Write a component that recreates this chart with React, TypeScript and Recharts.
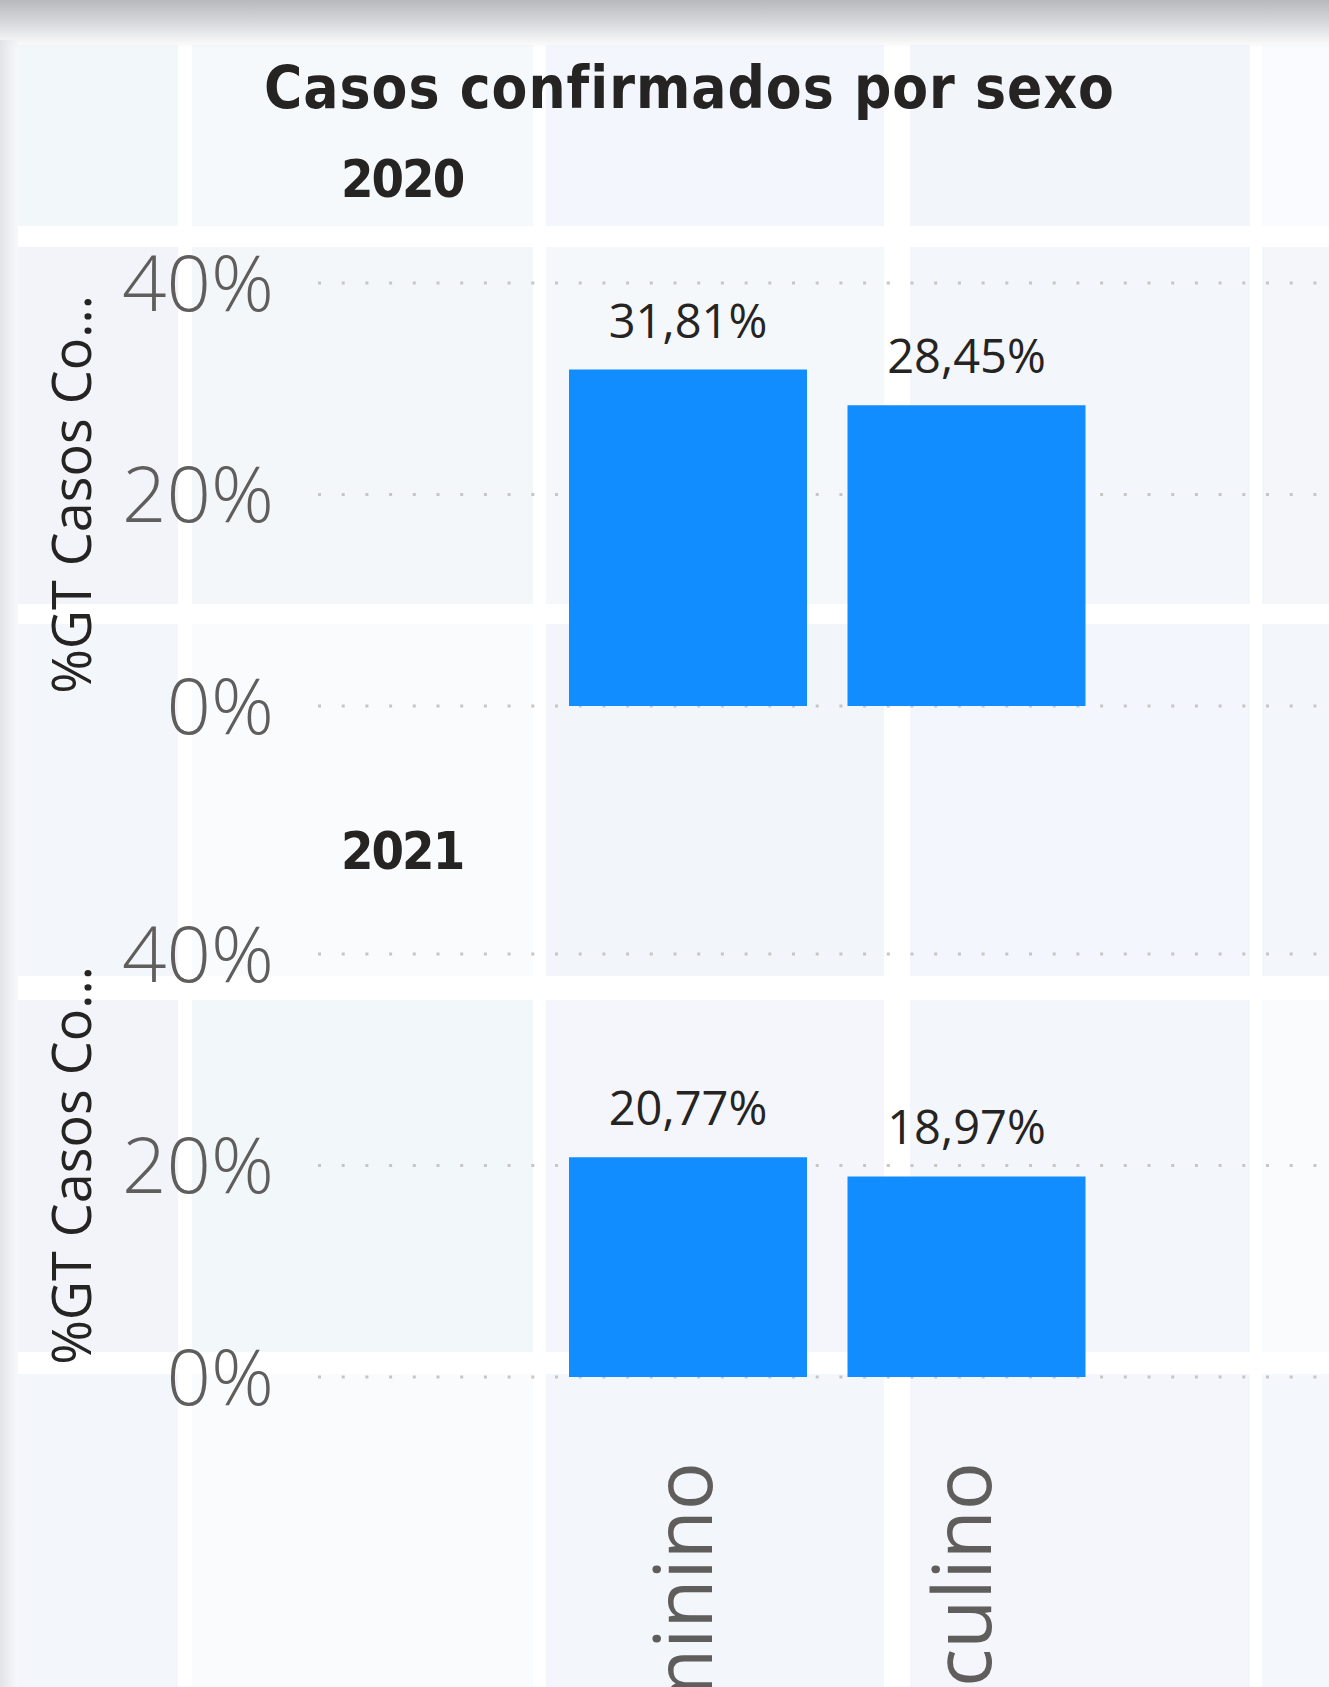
import React from "react";
import {
  BarChart,
  Bar,
  XAxis,
  YAxis,
  CartesianGrid,
  LabelList,
  Label,
} from "recharts";

const sexos = ["Feminino", "Masculino"];
const anios = ["2020", "2021"];
const valores2020 = [31.81, 28.45];
const valores2021 = [20.77, 18.97];
const yTicks = [0, 20, 40];

const BLUE = "#118DFF";
const TEXT = "#252423";
const GRAY = "#605E5C";

// faint tiles of the blurred page behind the visual
const tileCols = [
  [18, 178],
  [192, 533],
  [546, 884],
  [910, 1250],
  [1262, 1329],
];
const tileRows = [
  [45, 226],
  [247, 604],
  [624, 976],
  [1000, 1352],
  [1374, 1687],
];
const tileColors = [
  ["#F2F7FA", "#F5F9FC", "#F3F6FD", "#F2F5FA", "#FAFBFE"],
  ["#F2F4F9", "#F3F7FA", "#F5F8FB", "#F3F6FA", "#F4F6FA"],
  ["#F3F6FA", "#F9FBFD", "#F2F5FA", "#F3F6FD", "#F3F6FA"],
  ["#F2F4F9", "#F2F7FA", "#F4F6FB", "#F3F6FA", "#F9FBFD"],
  ["#F3F6FA", "#FAFBFD", "#F3F6FB", "#F4F6FB", "#F4F7FB"],
];

function fmtLabel(v: any): string {
  return Number(v).toFixed(2).replace(".", ",") + "%";
}

function renderYTitle(props: any) {
  const vb = props.viewBox || { x: 0, y: 0, width: 0, height: 0 };
  const cx = 70;
  const cy = vb.y + vb.height / 2;
  return (
    <text
      x={cx}
      y={cy}
      transform={`rotate(-90 ${cx} ${cy})`}
      textAnchor="middle"
      dominantBaseline="central"
      fontSize={54}
      fill={TEXT}
      fontFamily="'Open Sans', sans-serif"
    >
      %GT Casos Co...
    </text>
  );
}

function XTick(props: any) {
  const { x, y, payload } = props;
  const ty = y + 85;
  return (
    <text
      x={x}
      y={ty}
      transform={`rotate(-90 ${x} ${ty})`}
      textAnchor="end"
      dy="0.3em"
      fontSize={80}
      fill={GRAY}
      fontFamily="'Open Sans', sans-serif"
    >
      {payload.value}
    </text>
  );
}

interface PanelProps {
  valores: number[];
  top: number;
  height: number;
  marginTop: number;
  marginBottom: number;
  showX: boolean;
}

function Panel({ valores, top, height, marginTop, marginBottom, showX }: PanelProps) {
  const data = sexos.map((s, i) => ({ sexo: s, valor: valores[i] }));
  return (
    <div style={{ position: "absolute", left: 0, top, width: 1329, height }}>
      <BarChart
        width={1329}
        height={height}
        data={data}
        margin={{ top: marginTop, right: 0, bottom: marginBottom, left: 0 }}
      >
        <CartesianGrid
          vertical={false}
          stroke="#C8C6C4"
          strokeWidth={3}
          strokeDasharray="3 20.7"
        />
        <XAxis
          dataKey="sexo"
          hide={!showX}
          height={310}
          axisLine={false}
          tickLine={false}
          tickSize={0}
          tickMargin={0}
          interval={0}
          padding={{ left: 231, right: 223 }}
          tick={<XTick />}
        />
        <YAxis
          domain={[0, 40]}
          ticks={yTicks}
          interval={0}
          width={318}
          axisLine={false}
          tickLine={false}
          tickSize={0}
          tickMargin={44}
          tickFormatter={(v: number) => `${v}%`}
          tick={{
            fill: GRAY,
            fontSize: 78,
            fontWeight: 300,
            fontFamily: "'Open Sans', sans-serif",
          }}
        >
          <Label content={renderYTitle} />
        </YAxis>
        <Bar dataKey="valor" fill={BLUE} barSize={238} isAnimationActive={false}>
          <LabelList
            dataKey="valor"
            position="top"
            offset={32}
            formatter={fmtLabel}
            fill={TEXT}
            fontSize={47}
            fontFamily="'Open Sans', sans-serif"
          />
        </Bar>
      </BarChart>
    </div>
  );
}

export default function App() {
  return (
    <div
      style={{
        position: "absolute",
        left: 0,
        top: 0,
        width: 1329,
        height: 1687,
        overflow: "hidden",
        background: "#FFFFFF",
        fontFamily: "'Open Sans', sans-serif",
      }}
    >
      {tileRows.map((r, ri) =>
        tileCols.map((c, ci) => (
          <div
            key={`${ri}-${ci}`}
            style={{
              position: "absolute",
              left: c[0],
              top: r[0],
              width: c[1] - c[0],
              height: r[1] - r[0],
              background: tileColors[ri][ci],
            }}
          />
        ))
      )}
      <div
        style={{
          position: "absolute",
          left: 0,
          top: 0,
          width: 1329,
          height: 48,
          background: "linear-gradient(#B8B9BD, #D9DADD 50%, rgba(255,255,255,0))",
        }}
      />
      <div
        style={{
          position: "absolute",
          left: 0,
          top: 40,
          width: 18,
          height: 1647,
          background: "linear-gradient(90deg, #E3E4E7, rgba(243,244,246,0.6))",
        }}
      />

      <Panel valores={valores2020} top={0} height={770} marginTop={283} marginBottom={64} showX={false} />
      <Panel valores={valores2021} top={700} height={987} marginTop={254} marginBottom={0} showX={true} />

      <svg
        width={1329}
        height={1687}
        style={{ position: "absolute", left: 0, top: 0, pointerEvents: "none" }}
      >
        <text
          x={689.5}
          y={108}
          textAnchor="middle"
          fontFamily="'DejaVu Sans Condensed', 'DejaVu Sans', sans-serif"
          fontWeight="bold"
          fontSize={58}
          letterSpacing={1}
          fill={TEXT}
        >
          Casos confirmados por sexo
        </text>
        <text
          x={341}
          y={197}
          fontFamily="'DejaVu Sans Condensed', 'DejaVu Sans', sans-serif"
          fontWeight="bold"
          fontSize={52}
          letterSpacing={-2}
          fill={TEXT}
        >
          {anios[0]}
        </text>
        <text
          x={341}
          y={869}
          fontFamily="'DejaVu Sans Condensed', 'DejaVu Sans', sans-serif"
          fontWeight="bold"
          fontSize={52}
          letterSpacing={-2}
          fill={TEXT}
        >
          {anios[1]}
        </text>
      </svg>
    </div>
  );
}
